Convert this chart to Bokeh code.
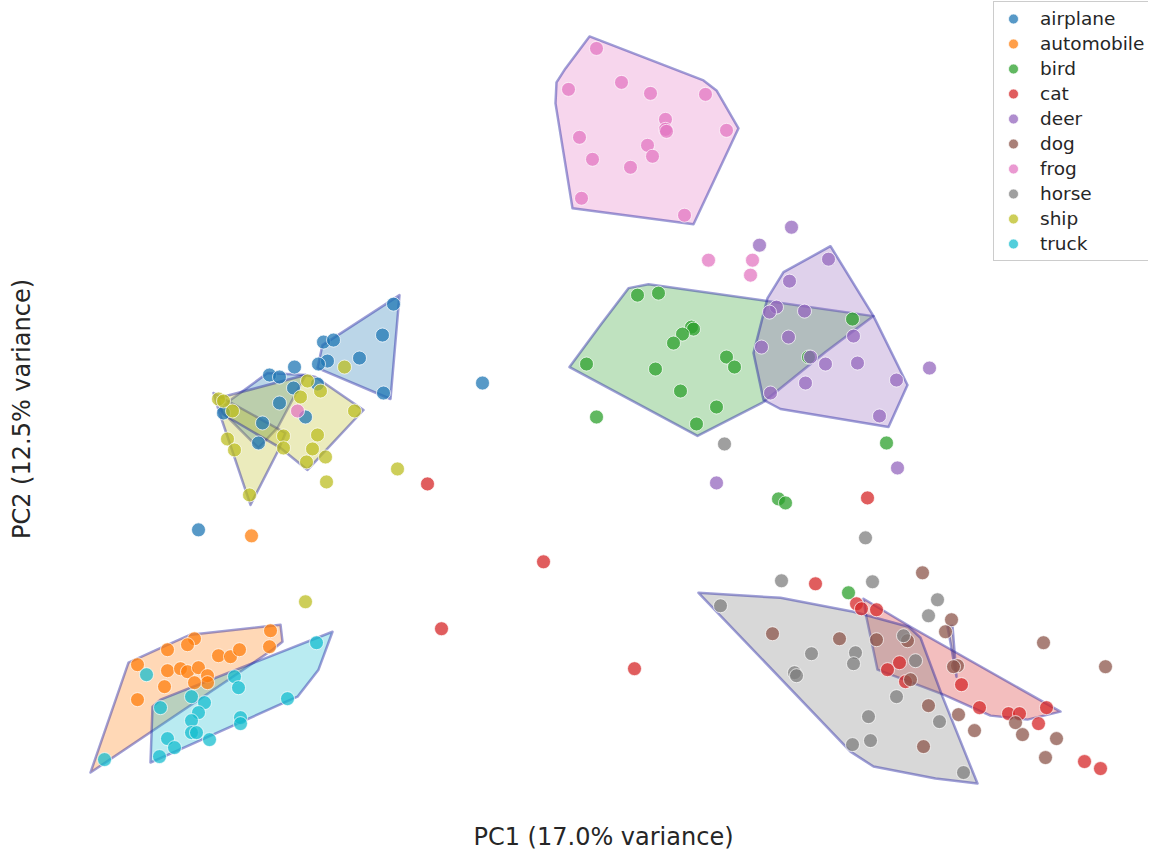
from bokeh.plotting import figure
from bokeh.models import Range1d, FixedTicker, Legend, LegendItem
from bokeh.embed import file_html
from bokeh.resources import INLINE

# ---- data (PC1 / PC2 scores, arbitrary units; PC2 axis points down) ----
classes = ["airplane", "automobile", "bird", "cat", "deer", "dog", "frog", "horse", "ship", "truck"]
colors = ["#1f77b4", "#ff7f0e", "#2ca02c", "#d62728", "#9467bd",
          "#8c564b", "#e377c2", "#7f7f7f", "#bcbd22", "#17becf"]

airplane_x = [393, 382, 323, 333, 359, 327, 318, 294, 269, 279, 293, 317, 383, 279, 223, 305, 262, 258, 482, 198]
airplane_y = [304, 335, 342, 340, 358, 361, 364, 367, 375, 377, 388, 384, 393, 403, 413, 417, 423, 443, 383, 530]

automobile_x = [270, 194, 187, 167, 218, 230, 239, 269, 137, 167, 180, 187, 198, 207, 207, 194, 164, 137, 251]
automobile_y = [631, 639, 645, 650, 656, 657, 650, 647, 665, 671, 669, 672, 668, 676, 683, 683, 687, 700, 536]

bird_x = [637, 658, 691, 693, 682, 673, 586, 655, 726, 734, 852, 680, 716, 696, 596, 886, 778, 785, 848, 808]
bird_y = [295, 293, 327, 329, 334, 343, 364, 369, 357, 367, 319, 391, 407, 424, 417, 443, 499, 503, 593, 357]

cat_x = [867, 815, 856, 861, 876, 899, 887, 905, 961, 979, 1008, 1019, 1046, 1038, 1084, 1100, 427, 543, 441, 634]
cat_y = [498, 584, 604, 609, 610, 663, 670, 682, 685, 708, 714, 714, 708, 724, 762, 769, 484, 562, 629, 669]

deer_x = [791, 759, 828, 789, 776, 769, 804, 788, 853, 761, 810, 825, 857, 929, 896, 805, 770, 879, 897, 716]
deer_y = [227, 245, 259, 281, 307, 312, 311, 337, 336, 347, 357, 364, 363, 368, 380, 383, 393, 416, 468, 483]

dog_x = [922, 772, 839, 876, 907, 951, 945, 957, 953, 910, 928, 958, 974, 1015, 1022, 1043, 1105, 1056, 1045, 923]
dog_y = [573, 634, 639, 640, 641, 620, 632, 666, 667, 680, 706, 715, 731, 723, 735, 643, 667, 739, 758, 747]

frog_x = [596, 621, 568, 650, 705, 665, 665, 666, 726, 579, 647, 652, 592, 630, 581, 684, 708, 752, 750, 297]
frog_y = [48, 82, 89, 93, 94, 119, 129, 131, 130, 137, 145, 156, 159, 167, 198, 215, 260, 260, 275, 411]

horse_x = [865, 781, 872, 937, 928, 720, 811, 855, 853, 794, 796, 903, 915, 896, 868, 939, 870, 852, 963, 724]
horse_y = [538, 581, 582, 600, 616, 606, 654, 653, 664, 673, 676, 636, 661, 697, 717, 722, 741, 745, 773, 444]

ship_x = [344, 307, 320, 300, 354, 218, 223, 232, 283, 283, 317, 312, 227, 234, 306, 325, 249, 326, 397, 305]
ship_y = [367, 381, 391, 397, 411, 399, 401, 411, 436, 448, 435, 449, 439, 450, 462, 457, 495, 482, 469, 602]

truck_x = [316, 146, 234, 238, 191, 204, 287, 160, 198, 191, 240, 240, 191, 196, 167, 209, 174, 159, 104]
truck_y = [643, 675, 677, 688, 697, 703, 699, 708, 713, 721, 718, 724, 733, 733, 739, 740, 748, 757, 760]

# ---- cluster hull outlines (same units) ----
airplane_hull_x = [[322, 399, 390, 317], [230, 267, 305, 277, 258, 220]]
airplane_hull_y = [[345, 295, 399, 368], [400, 373, 375, 428, 448, 410]]
automobile_hull_x = [[90, 128, 163, 190, 280, 282, 272, 228]]
automobile_hull_y = [[773, 663, 647, 635, 625, 642, 650, 680]]
bird_hull_x = [[569, 600, 628, 648, 873, 825, 763, 697]]
bird_hull_y = [[367, 325, 288, 284, 316, 352, 402, 436]]
cat_hull_x = [[863, 910, 1060, 1027, 990, 943, 877, 865]]
cat_hull_y = [[599, 627, 712, 720, 716, 695, 670, 613]]
deer_hull_x = [[830, 783, 767, 753, 763, 780, 888, 907, 873]]
deer_hull_y = [[246, 272, 298, 353, 400, 409, 427, 385, 316]]
dog_hull_x = [[947, 952, 956, 950]]
dog_hull_y = [[627, 626, 677, 643]]
frog_hull_x = [[589, 703, 716, 738, 693, 572, 555, 556, 565]]
frog_hull_y = [[36, 80, 90, 128, 224, 208, 103, 82, 68]]
horse_hull_x = [[698, 780, 853, 908, 920, 942, 977, 935, 873, 850]]
horse_hull_y = [[593, 598, 612, 627, 638, 697, 784, 779, 767, 752]]
ship_hull_x = [[213, 285, 278, 250, 218], [218, 305, 315, 363, 307, 280, 222]]
ship_hull_y = [[393, 433, 450, 505, 410], [398, 375, 377, 410, 470, 448, 414]]
truck_hull_x = [[150, 152, 160, 332, 318, 297]]
truck_hull_y = [[763, 707, 700, 632, 670, 697]]

points = {
    "airplane": (airplane_x, airplane_y), "automobile": (automobile_x, automobile_y),
    "bird": (bird_x, bird_y), "cat": (cat_x, cat_y), "deer": (deer_x, deer_y),
    "dog": (dog_x, dog_y), "frog": (frog_x, frog_y), "horse": (horse_x, horse_y),
    "ship": (ship_x, ship_y), "truck": (truck_x, truck_y),
}
hulls = {
    "airplane": (airplane_hull_x, airplane_hull_y), "automobile": (automobile_hull_x, automobile_hull_y),
    "bird": (bird_hull_x, bird_hull_y), "cat": (cat_hull_x, cat_hull_y), "deer": (deer_hull_x, deer_hull_y),
    "dog": (dog_hull_x, dog_hull_y), "frog": (frog_hull_x, frog_hull_y), "horse": (horse_hull_x, horse_hull_y),
    "ship": (ship_hull_x, ship_hull_y), "truck": (truck_hull_x, truck_hull_y),
}

FONT = "DejaVu Sans"

p = figure(width=1148, height=853, output_backend="svg", toolbar_location=None,
           x_range=Range1d(58, 1148), y_range=Range1d(818, 0),
           min_border_left=58, min_border_right=0, min_border_top=0, min_border_bottom=35)
p.outline_line_color = None
p.xgrid.visible = False
p.ygrid.visible = False
p.background_fill_color = "white"

for ax, label, standoff in ((p.xaxis[0], "PC1 (17.0% variance)", 5), (p.yaxis[0], "PC2 (12.5% variance)", 23)):
    ax.ticker = FixedTicker(ticks=[])
    ax.major_tick_in = 0
    ax.major_tick_out = 0
    ax.minor_tick_in = 0
    ax.minor_tick_out = 0
    ax.axis_line_color = None
    ax.major_label_text_font_size = "0px"
    ax.axis_label = label
    ax.axis_label_text_font = FONT
    ax.axis_label_text_font_size = "24px"
    ax.axis_label_text_font_style = "normal"
    ax.axis_label_text_color = "#262626"
    ax.axis_label_standoff = standoff

# hulls first
for name, col in zip(classes, colors):
    hx, hy = hulls[name]
    p.patches(hx, hy, fill_color=col, fill_alpha=0.3,
              line_color="#1a1aa0", line_alpha=0.42, line_width=2.5, line_join="round")

items = []
for name, col in zip(classes, colors):
    xs, ys = points[name]
    r = p.scatter(xs, ys, marker="circle", size=14, fill_color=col, fill_alpha=0.75,
                  line_color="white", line_width=0.8, line_alpha=0.9)
    items.append(LegendItem(label=name, renderers=[r]))

legend = Legend(items=items, location=(935, 556), margin=0, padding=4, spacing=0,
                glyph_width=30, glyph_height=25, label_height=25, label_standoff=12,
                label_text_font=FONT, label_text_font_size="18.5px", label_text_color="#262626",
                border_line_color="#cccccc", border_line_alpha=1.0, border_line_width=1,
                background_fill_color="white", background_fill_alpha=0.8)
p.add_layout(legend)

open("out.html", "w").write(file_html(p, INLINE))
